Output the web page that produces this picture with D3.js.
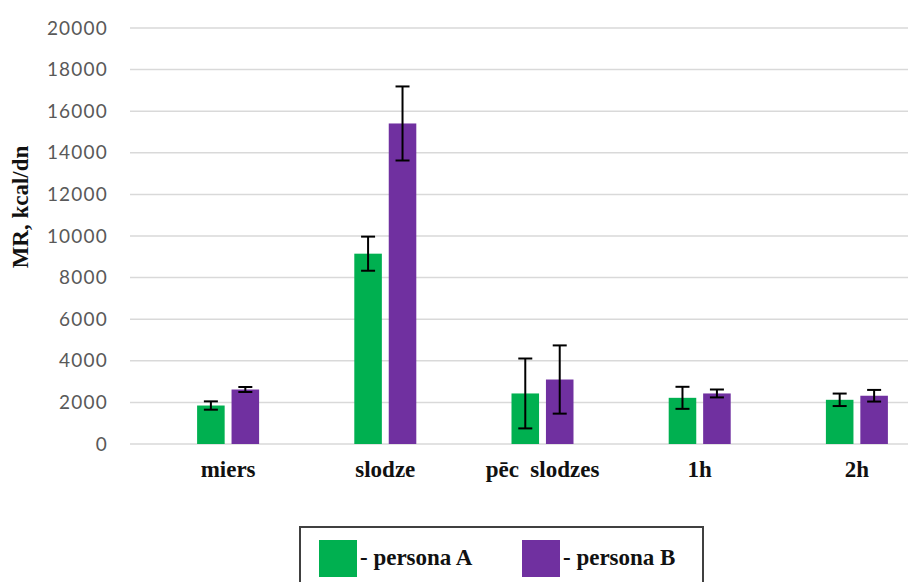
<!DOCTYPE html>
<html>
<head>
<meta charset="utf-8">
<script src="https://cdn.jsdelivr.net/npm/d3@7"></script>
<style>
  body { margin: 0; background: #fff; }
  svg { display: block; }
</style>
</head>
<body>
<div id="chart"></div>
<script>
'use strict'

// data
const categories = ['miers', 'slodze', 'pēc  slodzes', '1h', '2h']
const series = ['persona A', 'persona B']
const valuesA = [1850, 9150, 2430, 2220, 2125]
const valuesB = [2620, 15410, 3100, 2430, 2320]
const errA = [200, 820, 1680, 530, 300]
const errB = [120, 1780, 1640, 190, 280]
const yTicks = [0, 2000, 4000, 6000, 8000, 10000, 12000, 14000, 16000, 18000, 20000]
const colors = ['#00b050', '#7030a0']

const svgWidth = 908,
    svgHeight = 582,
    serif = '"Liberation Serif", "DejaVu Serif", serif',
    sans = 'Lato, "Open Sans", sans-serif'

const rows = []
categories.forEach((c, i) => {
    rows.push({cat: c, s: series[0], v: valuesA[i], e: errA[i]})
    rows.push({cat: c, s: series[1], v: valuesB[i], e: errB[i]})
})

const svg = d3.select('#chart')
    .append('svg')
    .attr('width', svgWidth)
    .attr('height', svgHeight)

const x = d3.scaleBand()
    .domain(categories)
    .range([149.5, 935.5])

const xs = d3.scaleBand()
    .domain(series)
    .range([-31, 31])
    .paddingInner(0.2)

const y = d3.scaleLinear()
    .domain([0, 20000])
    .range([444, 28])

// gridlines
svg.append('g')
    .selectAll('line')
    .data(yTicks)
    .join('line')
    .attr('x1', 130)
    .attr('x2', svgWidth)
    .attr('y1', d => y(d))
    .attr('y2', d => y(d))
    .attr('stroke', '#d9d9d9')
    .attr('stroke-width', 1.5)

// y axis labels
const yAxis = svg.append('g')
    .attr('transform', 'translate(130,0)')
    .call(d3.axisLeft(y).tickValues(yTicks).tickSize(0).tickPadding(22).tickFormat(d3.format('d')))
yAxis.select('.domain').remove()
yAxis.selectAll('text')
    .attr('fill', '#595959')
    .attr('font-family', sans)
    .attr('font-size', 19)
    .attr('letter-spacing', 1.2)

// x axis labels
const xAxis = svg.append('g')
    .attr('transform', 'translate(0,444)')
    .call(d3.axisBottom(x).tickSize(0))
xAxis.select('.domain').remove()
xAxis.selectAll('text')
    .attr('y', 33)
    .attr('dy', 0)
    .attr('fill', '#111')
    .attr('font-family', serif)
    .attr('font-weight', 'bold')
    .attr('font-size', 23)
    .style('white-space', 'pre')

// bars
const group = svg.append('g')
    .selectAll('g')
    .data(rows)
    .join('g')
    .attr('transform', d => `translate(${x(d.cat) + x.bandwidth() / 2},0)`)

group.append('rect')
    .attr('x', d => xs(d.s))
    .attr('y', d => y(d.v))
    .attr('width', xs.bandwidth())
    .attr('height', d => y(0) - y(d.v))
    .attr('fill', d => colors[series.indexOf(d.s)])

// error bars
const cap = 7
const err = group.append('g')
    .attr('stroke', '#000')
    .attr('stroke-width', 2)
    .attr('transform', d => `translate(${xs(d.s) + xs.bandwidth() / 2},0)`)

err.append('line')
    .attr('x1', 0).attr('x2', 0)
    .attr('y1', d => y(d.v + d.e))
    .attr('y2', d => y(d.v - d.e))
err.append('line')
    .attr('x1', -cap).attr('x2', cap)
    .attr('y1', d => y(d.v + d.e))
    .attr('y2', d => y(d.v + d.e))
err.append('line')
    .attr('x1', -cap).attr('x2', cap)
    .attr('y1', d => y(d.v - d.e))
    .attr('y2', d => y(d.v - d.e))

// y title
svg.append('text')
    .attr('transform', 'translate(28,207) rotate(-90)')
    .attr('text-anchor', 'middle')
    .attr('fill', '#111')
    .attr('font-family', serif)
    .attr('font-weight', 'bold')
    .attr('font-size', 23)
    .text('MR, kcal/dn')

// legend
const legend = svg.append('g')

legend.append('rect')
    .attr('x', 300)
    .attr('y', 527)
    .attr('width', 403)
    .attr('height', 70)
    .attr('fill', 'none')
    .attr('stroke', '#404040')
    .attr('stroke-width', 2)

const item = legend.selectAll('.item')
    .data(series)
    .join('g')
    .attr('class', 'item')
    .attr('transform', (d, i) => `translate(${i == 0 ? 319 : 522},540)`)

item.append('rect')
    .attr('width', 38)
    .attr('height', 37)
    .attr('fill', (d, i) => colors[i])

item.append('text')
    .attr('x', 41)
    .attr('y', 25)
    .attr('fill', '#111')
    .attr('font-family', serif)
    .attr('font-weight', 'bold')
    .attr('font-size', 23)
    .text(d => '- ' + d)
</script>
</body>
</html>
